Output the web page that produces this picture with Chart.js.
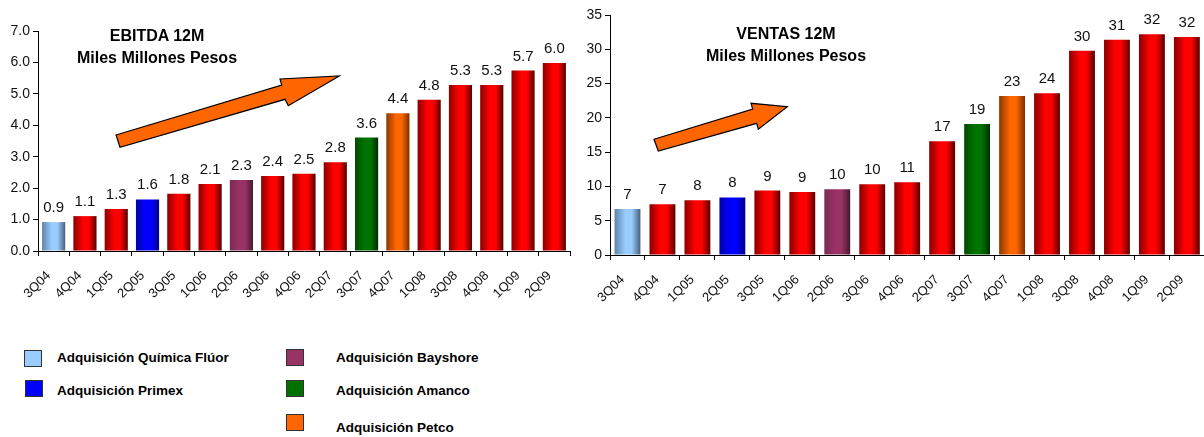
<!DOCTYPE html>
<html>
<head>
<meta charset="utf-8">
<script src="https://cdn.jsdelivr.net/npm/chart.js@4/dist/chart.umd.min.js"></script>
<style>
  body { margin: 0; width: 1204px; height: 437px; overflow: hidden; background: #fff; position: relative; font-family: "Liberation Sans", Arial, sans-serif; }
  canvas { position: absolute; }
  .title { position: absolute; width: 300px; text-align: center; font-weight: bold; font-size: 16px; line-height: 22px; color: #000; }
  .sq { position: absolute; width: 16px; height: 15px; border: 1px solid #333; }
  .lbl { position: absolute; font-weight: bold; font-size: 13.5px; line-height: 16px; color: #000; white-space: nowrap; }
</style>
</head>
<body>
<canvas id="chartEbitda" width="578" height="320" style="left:0;top:0"></canvas>
<canvas id="chartVentas" width="640" height="320" style="left:570px;top:0"></canvas>

<div class="title" style="left:7px;top:25px">EBITDA 12M<br>Miles Millones Pesos</div>
<div class="title" style="left:636px;top:23px">VENTAS 12M<br>Miles Millones Pesos</div>

<!-- legend -->
<div class="sq" style="left:24px;top:350px;background:#99ccff"></div>
<div class="lbl" style="left:57px;top:350px">Adquisición Química Flúor</div>
<div class="sq" style="left:25px;top:380px;background:#0000ff"></div>
<div class="lbl" style="left:57px;top:383px">Adquisición Primex</div>
<div class="sq" style="left:286px;top:349px;background:#993366"></div>
<div class="lbl" style="left:336px;top:350px">Adquisición Bayshore</div>
<div class="sq" style="left:286px;top:380px;background:#007000"></div>
<div class="lbl" style="left:336px;top:383px">Adquisición Amanco</div>
<div class="sq" style="left:286px;top:414px;background:#ff6600"></div>
<div class="lbl" style="left:336px;top:420px">Adquisición Petco</div>

<script>
// quarters on the x axis
const quarters = ["3Q04", "4Q04", "1Q05", "2Q05", "3Q05", "1Q06", "2Q06", "3Q06", "4Q06",
                  "2Q07", "3Q07", "4Q07", "1Q08", "3Q08", "4Q08", "1Q09", "2Q09"];

// EBITDA 12M, miles de millones de pesos
const ebitda = [0.92, 1.11, 1.34, 1.64, 1.82, 2.13, 2.26, 2.39, 2.46,
                2.82, 3.61, 4.38, 4.81, 5.28, 5.28, 5.74, 5.98];

// Ventas 12M, miles de millones de pesos
const ventas = [6.7, 7.4, 8.0, 8.4, 9.4, 9.2, 9.6, 10.3, 10.6,
                16.6, 19.1, 23.2, 23.6, 29.8, 31.4, 32.2, 31.8];

// which acquisition each quarter marks (empty = regular quarter)
const acquisition = ["quimica", "", "", "primex", "", "", "bayshore", "", "",
                     "", "amanco", "petco", "", "", "", "", ""];

const ebitdaTicks = [0, 1, 2, 3, 4, 5, 6, 7];
const ventasTicks = [0, 5, 10, 15, 20, 25, 30, 35];

// bar shading: dark left edge -> bright -> dark right edge
const palette = {
    base:     { left: "#8a0000", mid: "#ff0000", right: "#5a0000" },
    quimica:  { left: "#5d84a6", mid: "#99ccff", right: "#465f7a" },
    primex:   { left: "#0000a8", mid: "#0000ff", right: "#00008a" },
    bayshore: { left: "#7a2a52", mid: "#993366", right: "#45182f" },
    amanco:   { left: "#004a00", mid: "#007400", right: "#002e00" },
    petco:    { left: "#8a3800", mid: "#ff6600", right: "#7a3000" },
};

const BAR_PCT = 0.74;
const FONT = "'Liberation Sans', Arial, sans-serif";

function barFill(context) {
    const chart = context.chart;
    const p = palette[acquisition[context.dataIndex] || "base"];
    const xs = chart.scales.x;
    if (!chart.chartArea || !xs) return p.mid;
    const cx = xs.getPixelForValue(context.dataIndex);
    const w = xs.width / chart.data.labels.length * BAR_PCT;
    const g = chart.ctx.createLinearGradient(cx - w / 2, 0, cx + w / 2, 0);
    g.addColorStop(0, p.left);
    g.addColorStop(0.42, p.mid);
    g.addColorStop(0.66, p.mid);
    g.addColorStop(1, p.right);
    return g;
}

// value labels above bars
const valueLabels = {
    id: "valueLabels",
    afterDatasetsDraw(chart, args, opts) {
        const ctx = chart.ctx;
        const ds = chart.data.datasets[0];
        ctx.save();
        ctx.font = "15px " + FONT;
        ctx.fillStyle = "#111";
        ctx.textAlign = "center";
        ctx.textBaseline = "alphabetic";
        chart.getDatasetMeta(0).data.forEach((bar, i) => {
            ctx.fillText(opts.format(ds.data[i]), bar.x, bar.y - 10);
        });
        ctx.restore();
    }
};

// orange trend arrow, outline points in canvas pixels
const trendArrow = {
    id: "trendArrow",
    afterDraw(chart, args, opts) {
        const ctx = chart.ctx;
        const pts = opts.points;
        ctx.save();
        ctx.beginPath();
        ctx.moveTo(pts[0][0], pts[0][1]);
        for (let i = 1; i < pts.length; i++) ctx.lineTo(pts[i][0], pts[i][1]);
        ctx.closePath();
        ctx.fillStyle = "#ff6600";
        ctx.fill();
        ctx.lineWidth = 1.2;
        ctx.strokeStyle = "#000";
        ctx.stroke();
        ctx.restore();
    }
};

function makeConfig(values, ticks, decimals, yWidth, xHeight, padding, arrowPts) {
    return {
        type: "bar",
        data: {
            labels: quarters,
            datasets: [{
                data: values,
                backgroundColor: barFill,
                borderWidth: 0,
                categoryPercentage: 1,
                barPercentage: BAR_PCT,
            }],
        },
        options: {
            responsive: false,
            animation: false,
            layout: { padding: padding },
            plugins: {
                legend: { display: false },
                tooltip: { enabled: false },
                valueLabels: { format: v => v.toFixed(decimals) },
                trendArrow: { points: arrowPts },
            },
            scales: {
                x: {
                    afterFit: s => { s.height = xHeight; },
                    grid: { display: true, drawOnChartArea: false, drawTicks: true, tickLength: 5, color: "#000", offset: true },
                    border: { display: true, color: "#000", width: 1 },
                    ticks: { color: "#111", font: { family: FONT, size: 13 }, minRotation: 45, maxRotation: 45,
                             padding: 12, labelOffset: -5, autoSkip: false },
                },
                y: {
                    min: ticks[0],
                    max: ticks[ticks.length - 1],
                    afterFit: s => { s.width = yWidth; },
                    afterBuildTicks: s => { s.ticks = ticks.map(v => ({ value: v })); },
                    grid: { display: true, drawOnChartArea: false, drawTicks: true, tickLength: 5, color: "#000" },
                    border: { display: true, color: "#000", width: 1 },
                    ticks: { color: "#111", font: { family: FONT, size: 14 }, padding: 3,
                             callback: v => decimals ? v.toFixed(1) : String(v) },
                },
            },
        },
        plugins: [valueLabels, trendArrow],
    };
}

var chartEbitda = new Chart(
    document.getElementById("chartEbitda"),
    makeConfig(ebitda, ebitdaTicks, 1, 38, 69, { top: 31, right: 8, left: 0, bottom: 0 },
        [[116, 135], [281.7, 85], [280, 79], [339.3, 76], [288.3, 105.7], [285, 99.3], [120, 147.3]])
);

// right chart canvas starts at x = 570
var chartVentas = new Chart(
    document.getElementById("chartVentas"),
    makeConfig(ventas, ventasTicks, 0, 40, 65, { top: 15, right: 3, left: 0, bottom: 0 },
        [[84, 139.3], [182.7, 109], [181, 103.3], [217.3, 106.7], [188.3, 129.3], [186.7, 123.3], [88.3, 151]])
);
</script>
</body>
</html>
